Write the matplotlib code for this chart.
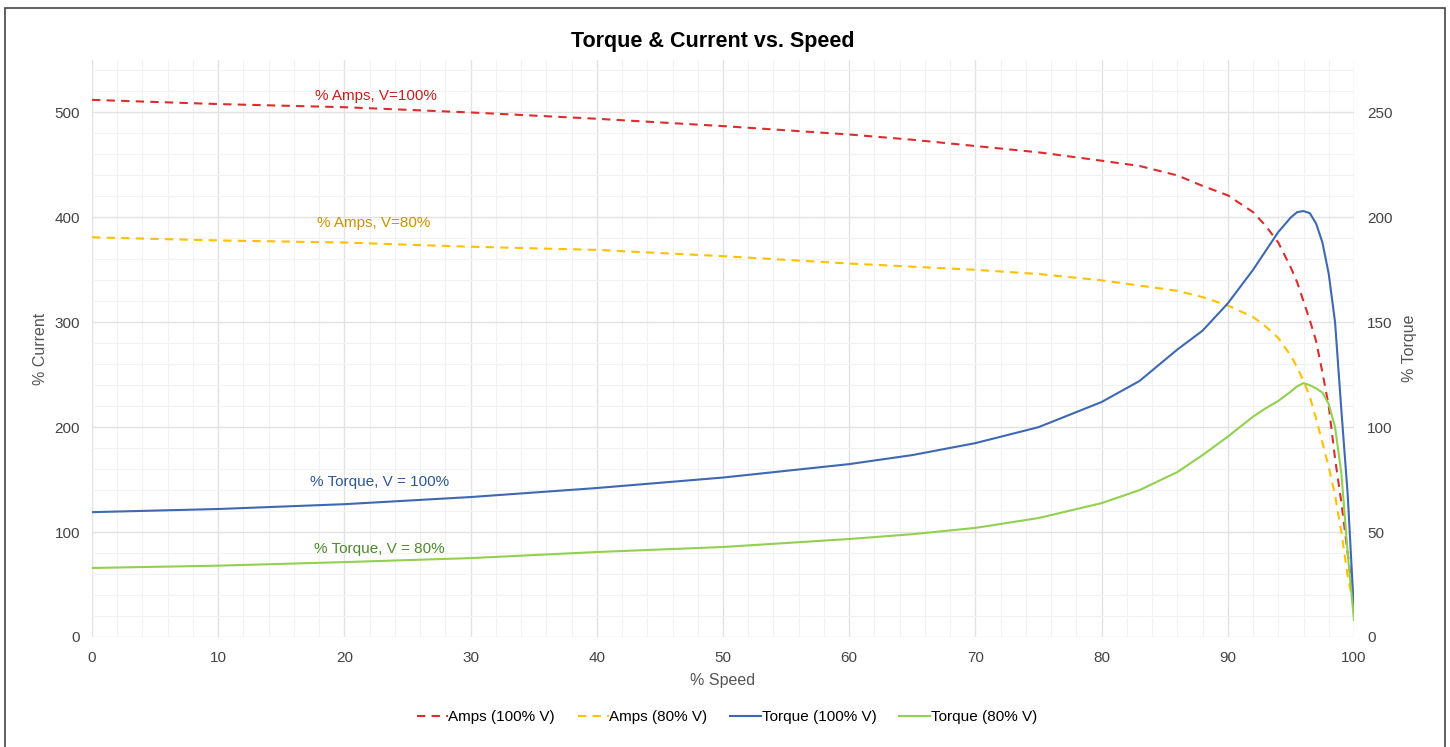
import matplotlib.pyplot as plt
from matplotlib.patches import Rectangle
from matplotlib.ticker import MultipleLocator

plt.rcParams['font.family'] = ['Liberation Sans', 'DejaVu Sans']

# % speed points
speed = [0, 10, 20, 30, 40, 50, 60, 65, 70, 75, 80, 83, 86, 88, 90, 92, 93, 94, 95,
         95.5, 96, 96.5, 97, 97.5, 98, 98.5, 99, 99.5, 100]

amps_100 = [512, 508, 505, 500, 494, 487, 479, 474, 468, 462, 454, 449, 440, 430, 421, 405, 392, 376, 352,
            338, 320, 302, 282, 252, 220, 170, 128, 80, 30]
amps_80 = [381, 378, 376, 372, 369, 363, 356, 353, 350, 346, 340, 335, 330, 324, 316, 305, 296, 285, 268,
           257, 244, 229, 208, 185, 162, 135, 100, 58, 28]

torque_100 = [59.5, 61, 63.3, 66.7, 71, 76, 82.4, 86.7, 92.4, 100, 112, 122, 137, 146, 159, 175, 184, 193, 200,
              202.5, 203, 202, 197, 188, 173, 150, 108, 68, 12]
torque_80 = [32.9, 34, 35.7, 37.6, 40.5, 42.9, 46.7, 49, 52, 56.7, 63.8, 70, 78.6, 86.7, 95.5, 105, 109, 112.5, 117,
             119.5, 121, 120, 118.5, 116.5, 111, 100, 78, 40, 8]

fig = plt.figure(figsize=(14.5, 7.47), dpi=100)
fig.patches.append(Rectangle((5 / 1450, -0.01), 1440 / 1450, 1 - 8 / 747 + 0.01,
                             transform=fig.transFigure, fill=False,
                             edgecolor='#444444', linewidth=1.2))

ax = fig.add_axes([92 / 1450, 1 - 637 / 747, 1262 / 1450, 577 / 747])
ax2 = ax.twinx()

dash = (0, (4, 3))
l1, = ax.plot(speed, amps_100, color='#dd2c2c', lw=1.5, ls=dash, label='Amps (100% V)')
l2, = ax.plot(speed, amps_80, color='#ffc000', lw=1.5, ls=dash, label='Amps (80% V)')
l3, = ax2.plot(speed, torque_100, color='#3e68b2', lw=1.5, label='Torque (100% V)')
l4, = ax2.plot(speed, torque_80, color='#92d050', lw=1.5, label='Torque (80% V)')

ax.set_xlim(0, 100)
ax.set_ylim(0, 550)
ax2.set_ylim(0, 275)
ax.xaxis.set_major_locator(MultipleLocator(10))
ax.xaxis.set_minor_locator(MultipleLocator(2))
ax.yaxis.set_major_locator(MultipleLocator(100))
ax.yaxis.set_minor_locator(MultipleLocator(20))
ax2.yaxis.set_major_locator(MultipleLocator(50))

ax.grid(which='major', color='#e2e2e2', lw=1)
ax.grid(which='minor', color='#f2f2f2', lw=0.8)
ax.set_axisbelow(True)

for a in (ax, ax2):
    for s in a.spines.values():
        s.set_visible(False)
    a.tick_params(which='both', length=0, labelsize=11, colors='#444444')
ax.tick_params(axis='y', pad=8.5)
ax.tick_params(axis='x', pad=10)
ax2.tick_params(axis='y', pad=9.5)

ax.set_xlabel('% Speed', fontsize=11.5, color='#555555', labelpad=6)
ax.set_ylabel('% Current', fontsize=11.5, color='#555555', labelpad=5)
ax2.set_ylabel('% Torque', fontsize=11.5, color='#555555', labelpad=7)

fig.text(0.4917, 1 - 42 / 747, 'Torque & Current vs. Speed', ha='center', va='center',
         fontsize=15.5, fontweight='bold')

ax.text(22.5, 516, '% Amps, V=100%', color='#c8201e', fontsize=11, ha='center', va='center')
ax.text(22.3, 395, '% Amps, V=80%', color='#c89400', fontsize=11, ha='center', va='center')
ax.text(22.8, 147.6, '% Torque, V = 100%', color='#2f5597', fontsize=11, ha='center', va='center')
ax.text(22.8, 84, '% Torque, V = 80%', color='#4e8a2e', fontsize=11, ha='center', va='center')

fig.legend(handles=[l1, l2, l3, l4], loc='center', bbox_to_anchor=(727 / 1450, 1 - 717 / 747),
           ncol=4, frameon=False, fontsize=11, handlelength=2.0, handletextpad=0.05,
           columnspacing=1.5)

fig.savefig('out.png', dpi=100)
